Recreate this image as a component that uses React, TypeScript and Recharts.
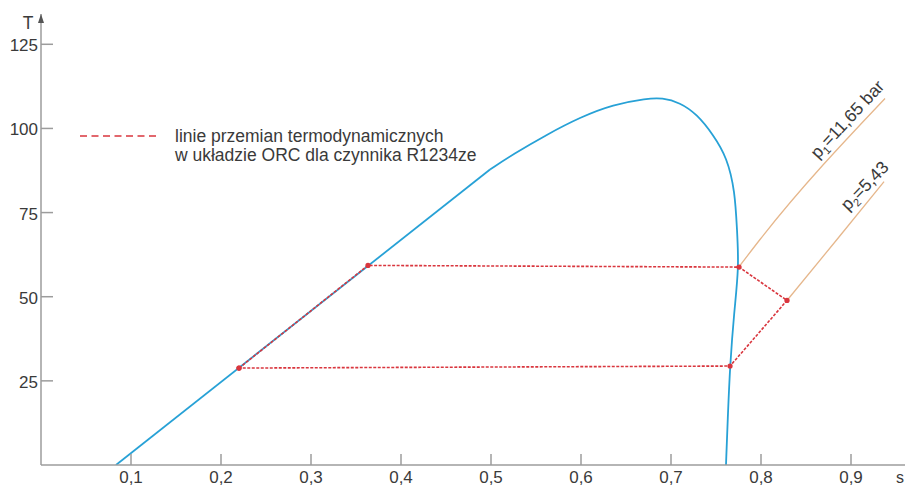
import { LineChart, Line, XAxis, YAxis, Legend, ReferenceDot } from "recharts"

const font = "'Liberation Sans', Arial, Helvetica, sans-serif"
const textColor = "#3a3a3a"
const axisColor = "#9c9c9c"
const blue = "#27a1d6"
const red = "#d9363e"
const tan = "#e6b78c"

// linia nasycenia: gałąź cieczy (prosta) + kopuła pary
const liquidS = [0.0833, 0.4989]
const liquidT = [0, 87.8]

const domeS = [0.4989, 0.5244, 0.5622, 0.5989, 0.6356, 0.6733, 0.69, 0.71, 0.7289, 0.7467, 0.7622, 0.7711, 0.7733, 0.7756, 0.77, 0.7656, 0.7633, 0.7611]
const domeT = [87.8, 92.3, 98.2, 103.3, 107.1, 108.9, 109.1, 107.7, 104.2, 98.2, 91.4, 81.3, 69.9, 58.9, 45.2, 29.5, 15.5, 0]

// obieg ORC: A -> B -> C -> D -> E -> A
const cycleS = [0.22, 0.3633, 0.7756, 0.8289, 0.7656, 0.22]
const cycleT = [28.8, 59.3, 58.8, 48.9, 29.4, 28.8]

// izobary
const p1S = [0.7756, 0.7989, 0.9378]
const p1T = [58.9, 67.0, 108.9]
const p2S = [0.8289, 0.8844, 0.9367]
const p2T = [48.9, 67.0, 84.2]

const xTicks = [0.1, 0.2, 0.3, 0.4, 0.5, 0.6, 0.7, 0.8, 0.9]
const yTicks = [25, 50, 75, 100, 125]

const zip = (s: number[], t: number[]) => s.map((v, i) => ({ s: v, T: t[i] }))

const liquidData = zip(liquidS, liquidT)
const domeData = zip(domeS, domeT)
const cycleData = zip(cycleS, cycleT)
const p1Data = zip(p1S, p1T)
const p2Data = zip(p2S, p2T)

const YTick = (props: any) => {
  const { x, y, payload } = props
  const ax = x + 3
  return (
    <g>
      <line x1={ax} x2={ax + 12} y1={y} y2={y} stroke={axisColor} strokeWidth={1.5} />
      <text x={x} y={y + 7} textAnchor="end" fontSize={17} fontFamily={font} fill={textColor}>
        {payload.value}
      </text>
    </g>
  )
}

const XTick = (props: any) => {
  const { x, y, payload } = props
  const ay = y - 8
  return (
    <g>
      <line x1={x} x2={x} y1={ay} y2={ay - 11} stroke={axisColor} strokeWidth={1.5} />
      <text x={x} y={y + 10} textAnchor="middle" fontSize={17} fontFamily={font} fill={textColor}>
        {String(payload.value).replace(".", ",")}
      </text>
    </g>
  )
}

const isobarLabel = (main: string, sub: string, rest: string, angle: number) => (props: any) => {
  const vb = props.viewBox || {}
  const x = vb.x + (vb.width || 0) / 2
  const y = vb.y + (vb.height || 0) / 2
  return (
    <text x={x} y={y} transform={`rotate(${angle} ${x} ${y})`} fontSize={17.5} fontFamily={font} fill={textColor}>
      {main}
      <tspan fontSize={11} dy={4}>{sub}</tspan>
      <tspan dy={-4}>{rest}</tspan>
    </text>
  )
}

const LegendBox = () => (
  <svg width={420} height={44} style={{ display: "block" }}>
    <line x1={2} x2={80} y1={10} y2={10} stroke={red} strokeWidth={1.6} strokeDasharray="7 4.5" />
    <text x={97} y={16} fontSize={17.5} fontFamily={font} fill={textColor}>
      linie przemian termodynamicznych
    </text>
    <text x={97} y={35} fontSize={17.5} fontFamily={font} fill={textColor}>
      w układzie ORC dla czynnika R1234ze
    </text>
  </svg>
)

export default function App() {
  return (
    <div style={{ position: "absolute", left: 0, top: 0, background: "#fff" }}>
      <LineChart width={907} height={487} margin={{ top: 14, right: 2, bottom: 0, left: 0 }}>
        <XAxis
          type="number"
          dataKey="s"
          domain={[0, 0.96]}
          ticks={xTicks}
          height={22}
          tickSize={0}
          tickMargin={8}
          tickLine={false}
          tick={<XTick />}
          axisLine={{ stroke: axisColor, strokeWidth: 1.5 }}
          allowDataOverflow
          label={(p: any) => {
            const vb = p.viewBox
            return (
              <text x={vb.x + vb.width - 9} y={vb.y + 18} fontSize={16} fontFamily={font} fill={textColor}>
                s
              </text>
            )
          }}
        />
        <YAxis
          type="number"
          dataKey="T"
          domain={[0, 134]}
          ticks={yTicks}
          width={41}
          tickSize={0}
          tickMargin={3}
          tickLine={false}
          tick={<YTick />}
          axisLine={{ stroke: axisColor, strokeWidth: 1.5 }}
          allowDataOverflow
          label={(p: any) => {
            const vb = p.viewBox
            const ax = vb.x + vb.width
            return (
              <g>
                <polygon points={`${ax - 3},${vb.y + 9} ${ax},${vb.y} ${ax + 3},${vb.y + 9}`} fill="#555" />
                <text x={vb.x + 28} y={vb.y + 15} textAnchor="middle" fontSize={17.5} fontFamily={font} fill={textColor}>
                  T
                </text>
              </g>
            )
          }}
        />
        <Legend
          layout="horizontal"
          verticalAlign="middle"
          align="center"
          content={<LegendBox />}
          wrapperStyle={{ position: "absolute", left: 78, top: 126, width: 420, height: 44 }}
        />
        <Line data={p1Data} dataKey="T" type="monotone" stroke={tan} strokeWidth={1.3} dot={false} isAnimationActive={false} legendType="none" />
        <Line data={p2Data} dataKey="T" type="monotone" stroke={tan} strokeWidth={1.3} dot={false} isAnimationActive={false} legendType="none" />
        <Line data={liquidData} dataKey="T" type="linear" stroke={blue} strokeWidth={1.8} dot={false} isAnimationActive={false} legendType="none" />
        <Line data={domeData} dataKey="T" type="basis" stroke={blue} strokeWidth={1.8} dot={false} isAnimationActive={false} legendType="none" />
        <Line
          data={cycleData}
          dataKey="T"
          type="linear"
          stroke={red}
          strokeWidth={1.6}
          strokeDasharray="3 1.5"
          dot={{ r: 2.6, fill: red, stroke: "none" }}
          isAnimationActive={false}
          legendType="none"
        />
        <ReferenceDot x={0.8633} y={90.8} r={0} fill="none" stroke="none" label={{ content: isobarLabel("p", "1", "=11,65 bar", -47) }} />
        <ReferenceDot x={0.8967} y={75.3} r={0} fill="none" stroke="none" label={{ content: isobarLabel("p", "2", "=5,43", -46) }} />
      </LineChart>
    </div>
  )
}
